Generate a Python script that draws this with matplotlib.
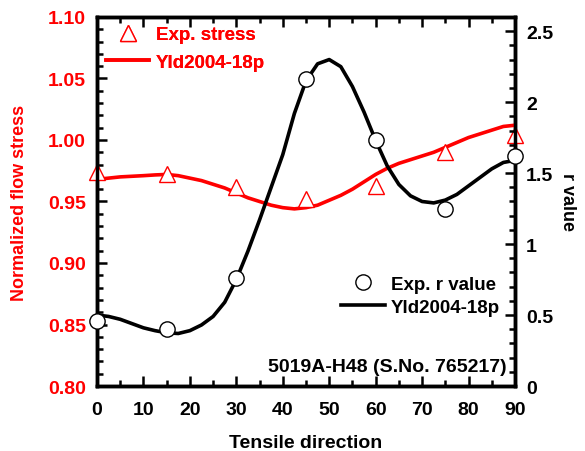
import matplotlib.pyplot as plt
from matplotlib.ticker import MultipleLocator

plt.rcParams['font.family'] = ['Liberation Sans', 'DejaVu Sans']
plt.rcParams['font.weight'] = 'bold'

# experimental points
angles = [0, 15, 30, 45, 60, 75, 90]
stress_exp = [0.974, 0.972, 0.962, 0.952, 0.963, 0.990, 1.004]
r_exp = [0.46, 0.40, 0.76, 2.16, 1.73, 1.25, 1.62]

# Yld2004-18p predictions read every 2.5 deg
angles_fit = [0, 2.5, 5, 7.5, 10, 12.5, 15, 17.5, 20, 22.5, 25, 27.5, 30, 32.5, 35,
              37.5, 40, 42.5, 45, 47.5, 50, 52.5, 55, 57.5, 60, 62.5, 65, 67.5, 70,
              72.5, 75, 77.5, 80, 82.5, 85, 87.5, 90]
stress_fit = [0.968, 0.969, 0.970, 0.9705, 0.971, 0.9716, 0.972, 0.971, 0.969, 0.967,
              0.964, 0.961, 0.957, 0.953, 0.950, 0.947, 0.945, 0.944, 0.945, 0.947,
              0.951, 0.955, 0.960, 0.966, 0.972, 0.977, 0.981, 0.984, 0.987, 0.990,
              0.994, 0.998, 1.002, 1.005, 1.008, 1.011, 1.012]
r_fit = [0.50, 0.49, 0.47, 0.44, 0.41, 0.39, 0.375, 0.37, 0.39, 0.43,
         0.49, 0.59, 0.75, 0.95, 1.17, 1.40, 1.63, 1.92, 2.15, 2.27,
         2.30, 2.25, 2.11, 1.93, 1.73, 1.55, 1.42, 1.34, 1.30, 1.29,
         1.31, 1.35, 1.41, 1.47, 1.53, 1.575, 1.59]

fig = plt.figure(figsize=(5.85, 4.52), dpi=100)
ax = fig.add_axes([0.1658, 0.1438, 0.7145, 0.8164])
ax2 = ax.twinx()

l1, = ax.plot(angles_fit, stress_fit, color='red', lw=2.6, zorder=3,
              solid_joinstyle='round')
m1, = ax.plot(angles, stress_exp, ls='none', marker='^', ms=12, mfc='white',
              mec='red', mew=1.0, zorder=4, clip_on=False)
l2, = ax2.plot(angles_fit, r_fit, color='black', lw=2.6, zorder=3,
               solid_joinstyle='round')
m2, = ax2.plot(angles, r_exp, ls='none', marker='o', ms=11, mfc='white',
               mec='black', mew=1.0, zorder=4, clip_on=False)

ax.set_xlim(0, 90)
ax.set_ylim(0.80, 1.10)
ax2.set_ylim(0, 2.6)

ax.xaxis.set_major_locator(MultipleLocator(10))
ax.xaxis.set_minor_locator(MultipleLocator(5))
ax.yaxis.set_major_locator(MultipleLocator(0.05))
ax.yaxis.set_minor_locator(MultipleLocator(0.01))
ax2.yaxis.set_major_locator(MultipleLocator(0.5))
ax2.yaxis.set_minor_locator(MultipleLocator(0.1))
ax.yaxis.set_major_formatter(plt.FormatStrFormatter('%.2f'))
ax2.yaxis.set_major_formatter(plt.FuncFormatter(lambda v, p: ('%g' % v)))

ax.tick_params(axis='x', which='both', direction='in', top=True, width=1.8,
               labelsize=14, pad=11)
ax.tick_params(axis='y', which='both', direction='in', width=1.8,
               labelsize=14, labelcolor='red', pad=8)
ax.tick_params(which='major', length=7)
ax.tick_params(which='minor', length=4)
ax2.tick_params(axis='y', which='both', direction='in', width=1.8, labelsize=14, pad=8)
ax2.tick_params(which='major', length=7)
ax2.tick_params(which='minor', length=4)

for a in (ax, ax2):
    for s in a.spines.values():
        s.set_linewidth(2.5)

ax.set_xlabel('Tensile direction', fontsize=14, fontweight='bold', labelpad=11)
ax.set_ylabel('Normalized flow stress', fontsize=13, fontweight='bold', color='red', labelpad=14)
ax2.set_ylabel('r value', fontsize=13, fontweight='bold', rotation=-90, labelpad=16)

leg1 = ax.legend([m1, l1], ['Exp. stress', 'Yld2004-18p'], loc='upper left',
                 frameon=False, fontsize=13.5, handlelength=2.3, borderaxespad=0.1,
                 handletextpad=0.35, labelspacing=0.55)
for t in leg1.get_texts():
    t.set_color('red')
    t.set_fontweight('bold')
ax.add_artist(leg1)

leg2 = ax2.legend([m2, l2], ['Exp. r value', 'Yld2004-18p'], loc='center right',
                  bbox_to_anchor=(1.005, 0.245), frameon=False, fontsize=13.5,
                  handlelength=2.3, handletextpad=0.35, labelspacing=0.3)
for t in leg2.get_texts():
    t.set_fontweight('bold')

ax2.text(0.98, 0.03, '5019A-H48 (S.No. 765217)', transform=ax2.transAxes,
         ha='right', va='bottom', fontsize=14, fontweight='bold')

fig.savefig('out.png', dpi=100)
